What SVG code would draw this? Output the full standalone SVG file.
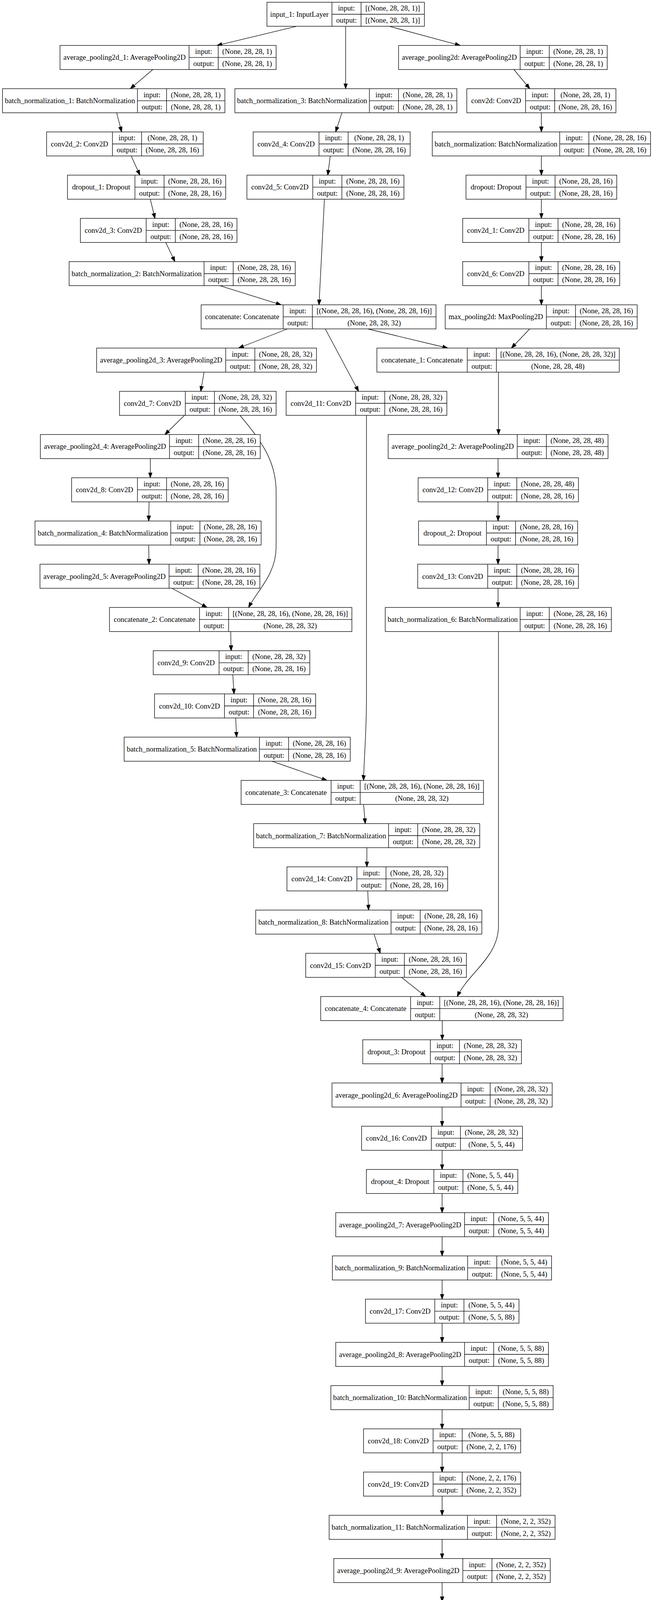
<svg xmlns="http://www.w3.org/2000/svg" width="1672" height="5164" viewBox="0 0 1672 5164">
<style>
.n rect{fill:#fff;stroke:#000;stroke-width:1.33}
.n path{fill:none;stroke:#000;stroke-width:1.33}
.n text{font-family:"Liberation Serif","Times New Roman",serif;font-size:18.67px;text-anchor:middle;fill:#000}
.e path{fill:none;stroke:#000;stroke-width:1.33;marker-end:url(#ah)}
</style>
<defs>
<marker id="ah" markerUnits="userSpaceOnUse" viewBox="0 -6 16 12" markerWidth="16" markerHeight="12" refX="13.3" refY="0" orient="auto"><path d="M0,-4.67L13.3,0L0,4.67Z" fill="#000" stroke="#000" stroke-width="1.33"/></marker>
</defs>
<rect width="1672" height="5164" fill="#fff"/>
<g id="connectors" class="e">
<path d="M759.2,67.3L555.6,116.4"/>
<path d="M885,67.3V227"/>
<path d="M997,67.3L1178.3,116.4"/>
<path d="M391.3,178L333.8,227"/>
<path d="M1315.8,178L1356.4,227"/>
<path d="M298.6,288.6L311.4,337.7"/>
<path d="M875.4,288.6L859.4,337.7"/>
<path d="M1386.2,288.6V337.7"/>
<path d="M335.9,399.3L358.3,448.4"/>
<path d="M845.6,399.3L839.2,448.4"/>
<path d="M1386.2,399.3V448.4"/>
<path d="M384.9,510L396.7,559"/>
<path d="M1386.2,510V559"/>
<path d="M424.4,620.7L447.9,669.7"/>
<path d="M1386.2,620.7V669.7"/>
<path d="M563,731.3L719.8,780.4"/>
<path d="M830.7,510L816.8,780.4"/>
<path d="M1386.2,731.3V780.4"/>
<path d="M735.8,842L611,891"/>
<path d="M832.8,842L918.1,1001.7"/>
<path d="M941.6,842L1146.3,891"/>
<path d="M1356.4,842L1309.5,891"/>
<path d="M522.5,952.7L514,1001.7"/>
<path d="M1276.4,952.7V1112.4"/>
<path d="M472.4,1063.3L422.3,1112.4"/>
<path d="M614.2,1063.3C680,1140 707,1190 707,1260L707,1400C707,1470 660,1510 636.6,1555"/>
<path d="M938.4,1063.3L938.4,1780C938.4,1880 932,1940 930.9,1997.8"/>
<path d="M1275.3,1174V1223"/>
<path d="M384.9,1174V1223"/>
<path d="M381.7,1284.7L380.7,1333.7"/>
<path d="M1275.3,1284.7V1333.7"/>
<path d="M380.7,1395.3L381.7,1444.4"/>
<path d="M1275.3,1395.3V1444.4"/>
<path d="M440.4,1506L530,1555"/>
<path d="M1275.3,1506V1555"/>
<path d="M590.7,1616.7L591.8,1665.7"/>
<path d="M1276.4,1616.7L1276.4,2370C1276.4,2450 1200,2490 1170.8,2551"/>
<path d="M596.1,1727.3L599.3,1776.4"/>
<path d="M603.5,1838L605.7,1887"/>
<path d="M696.3,1948.7L837.1,1997.8"/>
<path d="M930.9,2059.3L935.2,2108.4"/>
<path d="M939.4,2170V2219"/>
<path d="M941.6,2280.7L943.7,2329.7"/>
<path d="M957.6,2391.3L973.6,2440.4"/>
<path d="M1027.9,2502L1089.8,2551"/>
<path d="M1132.4,2612.7V2661.8"/>
<path d="M1132,2723.4V2772.4"/>
<path d="M1132,2834.1V2883.1"/>
<path d="M1132,2944.7V2993.8"/>
<path d="M1132,3055.4V3104.5"/>
<path d="M1132,3166.1V3215.1"/>
<path d="M1132,3276.7V3325.8"/>
<path d="M1132,3387.4V3436.5"/>
<path d="M1132,3498.1V3547.1"/>
<path d="M1132,3608.7V3657.8"/>
<path d="M1132,3719.4V3768.5"/>
<path d="M1132,3830.1V3879.1"/>
<path d="M1132,3940.8V3989.8"/>
<path d="M1132,4051.4V4100.5"/>
<path d="M1132,4162.1V4211.2"/>
<path d="M1132,4272.8V4321.8"/>
<path d="M1132,4383.4V4432.5"/>
<path d="M1132,4494.1V4543.2"/>
<path d="M1132,4604.8V4653.8"/>
<path d="M1132,4715.4V4764.5"/>
<path d="M1132,4826.1V4875.2"/>
<path d="M1132,4936.8V4985.8"/>
<path d="M1132,5047.5V5096.5"/>
</g>
<g id="input_1" class="n" transform="translate(683.5,5.7)"><rect width="403.1" height="61.6"/><path d="M166.4,0V61.6M241,0V61.6M166.4,30.8H403.1"/><text x="83.2" y="37.1">input_1: InputLayer</text><text x="203.7" y="21.7">input:</text><text x="203.7" y="52.5">output:</text><text x="322.05" y="21.7">[(None, 28, 28, 1)]</text><text x="322.05" y="52.5">[(None, 28, 28, 1)]</text></g>
<g id="average_pooling2d_1" class="n" transform="translate(153.6,116.37)"><rect width="553.4" height="61.6"/><path d="M330.5,0V61.6M405.1,0V61.6M330.5,30.8H553.4"/><text x="165.25" y="37.1">average_pooling2d_1: AveragePooling2D</text><text x="367.8" y="21.7">input:</text><text x="367.8" y="52.5">output:</text><text x="479.25" y="21.7">(None, 28, 28, 1)</text><text x="479.25" y="52.5">(None, 28, 28, 1)</text></g>
<g id="average_pooling2d" class="n" transform="translate(1020.5,116.37)"><rect width="534.2" height="61.6"/><path d="M311.3,0V61.6M385.9,0V61.6M311.3,30.8H534.2"/><text x="155.65" y="37.1">average_pooling2d: AveragePooling2D</text><text x="348.6" y="21.7">input:</text><text x="348.6" y="52.5">output:</text><text x="460.05" y="21.7">(None, 28, 28, 1)</text><text x="460.05" y="52.5">(None, 28, 28, 1)</text></g>
<g id="batch_normalization_1" class="n" transform="translate(6.4,227.04)"><rect width="569.4" height="61.6"/><path d="M345.5,0V61.6M420.1,0V61.6M345.5,30.8H569.4"/><text x="172.75" y="37.1">batch_normalization_1: BatchNormalization</text><text x="382.8" y="21.7">input:</text><text x="382.8" y="52.5">output:</text><text x="494.75" y="21.7">(None, 28, 28, 1)</text><text x="494.75" y="52.5">(None, 28, 28, 1)</text></g>
<g id="batch_normalization_3" class="n" transform="translate(601.4,227.04)"><rect width="568.3" height="61.6"/><path d="M344.4,0V61.6M419,0V61.6M344.4,30.8H568.3"/><text x="172.2" y="37.1">batch_normalization_3: BatchNormalization</text><text x="381.7" y="21.7">input:</text><text x="381.7" y="52.5">output:</text><text x="493.65" y="21.7">(None, 28, 28, 1)</text><text x="493.65" y="52.5">(None, 28, 28, 1)</text></g>
<g id="conv2d" class="n" transform="translate(1195.3,227.04)"><rect width="381.8" height="61.6"/><path d="M150.4,0V61.6M225,0V61.6M150.4,30.8H381.8"/><text x="75.2" y="37.1">conv2d: Conv2D</text><text x="187.7" y="21.7">input:</text><text x="187.7" y="52.5">output:</text><text x="303.4" y="21.7">(None, 28, 28, 1)</text><text x="303.4" y="52.5">(None, 28, 28, 16)</text></g>
<g id="conv2d_2" class="n" transform="translate(119.4,337.71)"><rect width="401" height="61.6"/><path d="M168.5,0V61.6M243.1,0V61.6M168.5,30.8H401"/><text x="84.25" y="37.1">conv2d_2: Conv2D</text><text x="205.8" y="21.7">input:</text><text x="205.8" y="52.5">output:</text><text x="322.05" y="21.7">(None, 28, 28, 1)</text><text x="322.05" y="52.5">(None, 28, 28, 16)</text></g>
<g id="conv2d_4" class="n" transform="translate(648.3,337.71)"><rect width="402" height="61.6"/><path d="M168.5,0V61.6M243.1,0V61.6M168.5,30.8H402"/><text x="84.25" y="37.1">conv2d_4: Conv2D</text><text x="205.8" y="21.7">input:</text><text x="205.8" y="52.5">output:</text><text x="322.55" y="21.7">(None, 28, 28, 1)</text><text x="322.55" y="52.5">(None, 28, 28, 16)</text></g>
<g id="batch_normalization" class="n" transform="translate(1106.8,337.71)"><rect width="558.8" height="61.6"/><path d="M326.3,0V61.6M400.9,0V61.6M326.3,30.8H558.8"/><text x="163.15" y="37.1">batch_normalization: BatchNormalization</text><text x="363.6" y="21.7">input:</text><text x="363.6" y="52.5">output:</text><text x="479.85" y="21.7">(None, 28, 28, 16)</text><text x="479.85" y="52.5">(None, 28, 28, 16)</text></g>
<g id="dropout_1" class="n" transform="translate(172.7,448.38)"><rect width="405.2" height="61.6"/><path d="M172.8,0V61.6M247.4,0V61.6M172.8,30.8H405.2"/><text x="86.4" y="37.1">dropout_1: Dropout</text><text x="210.1" y="21.7">input:</text><text x="210.1" y="52.5">output:</text><text x="326.3" y="21.7">(None, 28, 28, 16)</text><text x="326.3" y="52.5">(None, 28, 28, 16)</text></g>
<g id="conv2d_5" class="n" transform="translate(632.3,448.38)"><rect width="402" height="61.6"/><path d="M168.5,0V61.6M243.1,0V61.6M168.5,30.8H402"/><text x="84.25" y="37.1">conv2d_5: Conv2D</text><text x="205.8" y="21.7">input:</text><text x="205.8" y="52.5">output:</text><text x="322.55" y="21.7">(None, 28, 28, 16)</text><text x="322.55" y="52.5">(None, 28, 28, 16)</text></g>
<g id="dropout" class="n" transform="translate(1193.2,448.38)"><rect width="386" height="61.6"/><path d="M153.5,0V61.6M228.1,0V61.6M153.5,30.8H386"/><text x="76.75" y="37.1">dropout: Dropout</text><text x="190.8" y="21.7">input:</text><text x="190.8" y="52.5">output:</text><text x="307.05" y="21.7">(None, 28, 28, 16)</text><text x="307.05" y="52.5">(None, 28, 28, 16)</text></g>
<g id="conv2d_3" class="n" transform="translate(205.8,559.05)"><rect width="400.9" height="61.6"/><path d="M168.5,0V61.6M243.1,0V61.6M168.5,30.8H400.9"/><text x="84.25" y="37.1">conv2d_3: Conv2D</text><text x="205.8" y="21.7">input:</text><text x="205.8" y="52.5">output:</text><text x="322" y="21.7">(None, 28, 28, 16)</text><text x="322" y="52.5">(None, 28, 28, 16)</text></g>
<g id="conv2d_1" class="n" transform="translate(1184.7,559.05)"><rect width="402" height="61.6"/><path d="M169.5,0V61.6M244.1,0V61.6M169.5,30.8H402"/><text x="84.75" y="37.1">conv2d_1: Conv2D</text><text x="206.8" y="21.7">input:</text><text x="206.8" y="52.5">output:</text><text x="323.05" y="21.7">(None, 28, 28, 16)</text><text x="323.05" y="52.5">(None, 28, 28, 16)</text></g>
<g id="batch_normalization_2" class="n" transform="translate(177,669.72)"><rect width="579" height="61.6"/><path d="M345.5,0V61.6M420.1,0V61.6M345.5,30.8H579"/><text x="172.75" y="37.1">batch_normalization_2: BatchNormalization</text><text x="382.8" y="21.7">input:</text><text x="382.8" y="52.5">output:</text><text x="499.55" y="21.7">(None, 28, 28, 16)</text><text x="499.55" y="52.5">(None, 28, 28, 16)</text></g>
<g id="conv2d_6" class="n" transform="translate(1184.7,669.72)"><rect width="402" height="61.6"/><path d="M169.5,0V61.6M244.1,0V61.6M169.5,30.8H402"/><text x="84.75" y="37.1">conv2d_6: Conv2D</text><text x="206.8" y="21.7">input:</text><text x="206.8" y="52.5">output:</text><text x="323.05" y="21.7">(None, 28, 28, 16)</text><text x="323.05" y="52.5">(None, 28, 28, 16)</text></g>
<g id="concatenate" class="n" transform="translate(515,780.39)"><rect width="601.4" height="61.6"/><path d="M210.1,0V61.6M284.7,0V61.6M210.1,30.8H601.4"/><text x="105.05" y="37.1">concatenate: Concatenate</text><text x="247.4" y="21.7">input:</text><text x="247.4" y="52.5">output:</text><text x="443.05" y="21.7">[(None, 28, 28, 16), (None, 28, 28, 16)]</text><text x="443.05" y="52.5">(None, 28, 28, 32)</text></g>
<g id="max_pooling2d" class="n" transform="translate(1139.9,780.39)"><rect width="491.6" height="61.6"/><path d="M259.1,0V61.6M333.7,0V61.6M259.1,30.8H491.6"/><text x="129.55" y="37.1">max_pooling2d: MaxPooling2D</text><text x="296.4" y="21.7">input:</text><text x="296.4" y="52.5">output:</text><text x="412.65" y="21.7">(None, 28, 28, 16)</text><text x="412.65" y="52.5">(None, 28, 28, 16)</text></g>
<g id="average_pooling2d_3" class="n" transform="translate(247.4,891.06)"><rect width="563" height="61.6"/><path d="M330.5,0V61.6M405.1,0V61.6M330.5,30.8H563"/><text x="165.25" y="37.1">average_pooling2d_3: AveragePooling2D</text><text x="367.8" y="21.7">input:</text><text x="367.8" y="52.5">output:</text><text x="484.05" y="21.7">(None, 28, 28, 32)</text><text x="484.05" y="52.5">(None, 28, 28, 32)</text></g>
<g id="concatenate_1" class="n" transform="translate(965,891.06)"><rect width="620.6" height="61.6"/><path d="M231.4,0V61.6M306,0V61.6M231.4,30.8H620.6"/><text x="115.7" y="37.1">concatenate_1: Concatenate</text><text x="268.7" y="21.7">input:</text><text x="268.7" y="52.5">output:</text><text x="463.3" y="21.7">[(None, 28, 28, 16), (None, 28, 28, 32)]</text><text x="463.3" y="52.5">(None, 28, 28, 48)</text></g>
<g id="conv2d_7" class="n" transform="translate(306,1001.73)"><rect width="401" height="61.6"/><path d="M168.5,0V61.6M243.1,0V61.6M168.5,30.8H401"/><text x="84.25" y="37.1">conv2d_7: Conv2D</text><text x="205.8" y="21.7">input:</text><text x="205.8" y="52.5">output:</text><text x="322.05" y="21.7">(None, 28, 28, 32)</text><text x="322.05" y="52.5">(None, 28, 28, 16)</text></g>
<g id="conv2d_11" class="n" transform="translate(732.6,1001.73)"><rect width="411.6" height="61.6"/><path d="M178,0V61.6M252.6,0V61.6M178,30.8H411.6"/><text x="89" y="37.1">conv2d_11: Conv2D</text><text x="215.3" y="21.7">input:</text><text x="215.3" y="52.5">output:</text><text x="332.1" y="21.7">(None, 28, 28, 32)</text><text x="332.1" y="52.5">(None, 28, 28, 16)</text></g>
<g id="average_pooling2d_4" class="n" transform="translate(103.4,1112.4)"><rect width="563" height="61.6"/><path d="M330.6,0V61.6M405.2,0V61.6M330.6,30.8H563"/><text x="165.3" y="37.1">average_pooling2d_4: AveragePooling2D</text><text x="367.9" y="21.7">input:</text><text x="367.9" y="52.5">output:</text><text x="484.1" y="21.7">(None, 28, 28, 16)</text><text x="484.1" y="52.5">(None, 28, 28, 16)</text></g>
<g id="average_pooling2d_2" class="n" transform="translate(993.8,1112.4)"><rect width="563" height="61.6"/><path d="M330.6,0V61.6M405.2,0V61.6M330.6,30.8H563"/><text x="165.3" y="37.1">average_pooling2d_2: AveragePooling2D</text><text x="367.9" y="21.7">input:</text><text x="367.9" y="52.5">output:</text><text x="484.1" y="21.7">(None, 28, 28, 48)</text><text x="484.1" y="52.5">(None, 28, 28, 48)</text></g>
<g id="conv2d_8" class="n" transform="translate(183.4,1223.07)"><rect width="400.9" height="61.6"/><path d="M168.5,0V61.6M243.1,0V61.6M168.5,30.8H400.9"/><text x="84.25" y="37.1">conv2d_8: Conv2D</text><text x="205.8" y="21.7">input:</text><text x="205.8" y="52.5">output:</text><text x="322" y="21.7">(None, 28, 28, 16)</text><text x="322" y="52.5">(None, 28, 28, 16)</text></g>
<g id="conv2d_12" class="n" transform="translate(1070.6,1223.07)"><rect width="410.5" height="61.6"/><path d="M178.1,0V61.6M252.7,0V61.6M178.1,30.8H410.5"/><text x="89.05" y="37.1">conv2d_12: Conv2D</text><text x="215.4" y="21.7">input:</text><text x="215.4" y="52.5">output:</text><text x="331.6" y="21.7">(None, 28, 28, 48)</text><text x="331.6" y="52.5">(None, 28, 28, 16)</text></g>
<g id="batch_normalization_4" class="n" transform="translate(89.6,1333.74)"><rect width="579" height="61.6"/><path d="M347.6,0V61.6M422.2,0V61.6M347.6,30.8H579"/><text x="173.8" y="37.1">batch_normalization_4: BatchNormalization</text><text x="384.9" y="21.7">input:</text><text x="384.9" y="52.5">output:</text><text x="500.6" y="21.7">(None, 28, 28, 16)</text><text x="500.6" y="52.5">(None, 28, 28, 16)</text></g>
<g id="dropout_2" class="n" transform="translate(1071.6,1333.74)"><rect width="407.4" height="61.6"/><path d="M173.9,0V61.6M248.5,0V61.6M173.9,30.8H407.4"/><text x="86.95" y="37.1">dropout_2: Dropout</text><text x="211.2" y="21.7">input:</text><text x="211.2" y="52.5">output:</text><text x="327.95" y="21.7">(None, 28, 28, 16)</text><text x="327.95" y="52.5">(None, 28, 28, 16)</text></g>
<g id="average_pooling2d_5" class="n" transform="translate(102.4,1444.41)"><rect width="563" height="61.6"/><path d="M330.5,0V61.6M405.1,0V61.6M330.5,30.8H563"/><text x="165.25" y="37.1">average_pooling2d_5: AveragePooling2D</text><text x="367.8" y="21.7">input:</text><text x="367.8" y="52.5">output:</text><text x="484.05" y="21.7">(None, 28, 28, 16)</text><text x="484.05" y="52.5">(None, 28, 28, 16)</text></g>
<g id="conv2d_13" class="n" transform="translate(1069.5,1444.41)"><rect width="411.6" height="61.6"/><path d="M179.2,0V61.6M253.8,0V61.6M179.2,30.8H411.6"/><text x="89.6" y="37.1">conv2d_13: Conv2D</text><text x="216.5" y="21.7">input:</text><text x="216.5" y="52.5">output:</text><text x="332.7" y="21.7">(None, 28, 28, 16)</text><text x="332.7" y="52.5">(None, 28, 28, 16)</text></g>
<g id="concatenate_2" class="n" transform="translate(280.4,1555.08)"><rect width="620.6" height="61.6"/><path d="M230.4,0V61.6M305,0V61.6M230.4,30.8H620.6"/><text x="115.2" y="37.1">concatenate_2: Concatenate</text><text x="267.7" y="21.7">input:</text><text x="267.7" y="52.5">output:</text><text x="462.8" y="21.7">[(None, 28, 28, 16), (None, 28, 28, 16)]</text><text x="462.8" y="52.5">(None, 28, 28, 32)</text></g>
<g id="batch_normalization_6" class="n" transform="translate(986.4,1555.08)"><rect width="579" height="61.6"/><path d="M345.4,0V61.6M420,0V61.6M345.4,30.8H579"/><text x="172.7" y="37.1">batch_normalization_6: BatchNormalization</text><text x="382.7" y="21.7">input:</text><text x="382.7" y="52.5">output:</text><text x="499.5" y="21.7">(None, 28, 28, 16)</text><text x="499.5" y="52.5">(None, 28, 28, 16)</text></g>
<g id="conv2d_9" class="n" transform="translate(392.4,1665.75)"><rect width="400.9" height="61.6"/><path d="M168.5,0V61.6M243.1,0V61.6M168.5,30.8H400.9"/><text x="84.25" y="37.1">conv2d_9: Conv2D</text><text x="205.8" y="21.7">input:</text><text x="205.8" y="52.5">output:</text><text x="322" y="21.7">(None, 28, 28, 32)</text><text x="322" y="52.5">(None, 28, 28, 16)</text></g>
<g id="conv2d_10" class="n" transform="translate(395.6,1776.42)"><rect width="412.7" height="61.6"/><path d="M179.1,0V61.6M253.7,0V61.6M179.1,30.8H412.7"/><text x="89.55" y="37.1">conv2d_10: Conv2D</text><text x="216.4" y="21.7">input:</text><text x="216.4" y="52.5">output:</text><text x="333.2" y="21.7">(None, 28, 28, 16)</text><text x="333.2" y="52.5">(None, 28, 28, 16)</text></g>
<g id="batch_normalization_5" class="n" transform="translate(317.8,1887.09)"><rect width="579" height="61.6"/><path d="M346.5,0V61.6M421.1,0V61.6M346.5,30.8H579"/><text x="173.25" y="37.1">batch_normalization_5: BatchNormalization</text><text x="383.8" y="21.7">input:</text><text x="383.8" y="52.5">output:</text><text x="500.05" y="21.7">(None, 28, 28, 16)</text><text x="500.05" y="52.5">(None, 28, 28, 16)</text></g>
<g id="concatenate_3" class="n" transform="translate(617.4,1997.76)"><rect width="620.6" height="61.6"/><path d="M230.3,0V61.6M304.9,0V61.6M230.3,30.8H620.6"/><text x="115.15" y="37.1">concatenate_3: Concatenate</text><text x="267.6" y="21.7">input:</text><text x="267.6" y="52.5">output:</text><text x="462.75" y="21.7">[(None, 28, 28, 16), (None, 28, 28, 16)]</text><text x="462.75" y="52.5">(None, 28, 28, 32)</text></g>
<g id="batch_normalization_7" class="n" transform="translate(649.4,2108.43)"><rect width="579" height="61.6"/><path d="M345.5,0V61.6M420.1,0V61.6M345.5,30.8H579"/><text x="172.75" y="37.1">batch_normalization_7: BatchNormalization</text><text x="382.8" y="21.7">input:</text><text x="382.8" y="52.5">output:</text><text x="499.55" y="21.7">(None, 28, 28, 32)</text><text x="499.55" y="52.5">(None, 28, 28, 32)</text></g>
<g id="conv2d_14" class="n" transform="translate(734.7,2219.1)"><rect width="411.6" height="61.6"/><path d="M179.1,0V61.6M253.7,0V61.6M179.1,30.8H411.6"/><text x="89.55" y="37.1">conv2d_14: Conv2D</text><text x="216.4" y="21.7">input:</text><text x="216.4" y="52.5">output:</text><text x="332.65" y="21.7">(None, 28, 28, 32)</text><text x="332.65" y="52.5">(None, 28, 28, 16)</text></g>
<g id="batch_normalization_8" class="n" transform="translate(654.7,2329.77)"><rect width="579" height="61.6"/><path d="M346.6,0V61.6M421.2,0V61.6M346.6,30.8H579"/><text x="173.3" y="37.1">batch_normalization_8: BatchNormalization</text><text x="383.9" y="21.7">input:</text><text x="383.9" y="52.5">output:</text><text x="500.1" y="21.7">(None, 28, 28, 16)</text><text x="500.1" y="52.5">(None, 28, 28, 16)</text></g>
<g id="conv2d_15" class="n" transform="translate(782.7,2440.44)"><rect width="411.6" height="61.6"/><path d="M178.1,0V61.6M252.7,0V61.6M178.1,30.8H411.6"/><text x="89.05" y="37.1">conv2d_15: Conv2D</text><text x="215.4" y="21.7">input:</text><text x="215.4" y="52.5">output:</text><text x="332.15" y="21.7">(None, 28, 28, 16)</text><text x="332.15" y="52.5">(None, 28, 28, 16)</text></g>
<g id="concatenate_4" class="n" transform="translate(821.1,2551.11)"><rect width="620.6" height="61.6"/><path d="M230.3,0V61.6M304.9,0V61.6M230.3,30.8H620.6"/><text x="115.15" y="37.1">concatenate_4: Concatenate</text><text x="267.6" y="21.7">input:</text><text x="267.6" y="52.5">output:</text><text x="462.75" y="21.7">[(None, 28, 28, 16), (None, 28, 28, 16)]</text><text x="462.75" y="52.5">(None, 28, 28, 32)</text></g>
<g id="dropout_3" class="n" transform="translate(928.8,2661.78)"><rect width="406.4" height="61.6"/><path d="M173.1,0V61.6M247.7,0V61.6M173.1,30.8H406.4"/><text x="86.55" y="37.1">dropout_3: Dropout</text><text x="210.4" y="21.7">input:</text><text x="210.4" y="52.5">output:</text><text x="327.05" y="21.7">(None, 28, 28, 32)</text><text x="327.05" y="52.5">(None, 28, 28, 32)</text></g>
<g id="average_pooling2d_6" class="n" transform="translate(850.1,2772.45)"><rect width="563.7" height="61.6"/><path d="M330.4,0V61.6M405,0V61.6M330.4,30.8H563.7"/><text x="165.2" y="37.1">average_pooling2d_6: AveragePooling2D</text><text x="367.7" y="21.7">input:</text><text x="367.7" y="52.5">output:</text><text x="484.35" y="21.7">(None, 28, 28, 32)</text><text x="484.35" y="52.5">(None, 28, 28, 32)</text></g>
<g id="conv2d_16" class="n" transform="translate(925.8,2883.12)"><rect width="411.9" height="61.6"/><path d="M178.6,0V61.6M253.2,0V61.6M178.6,30.8H411.9"/><text x="89.3" y="37.1">conv2d_16: Conv2D</text><text x="215.9" y="21.7">input:</text><text x="215.9" y="52.5">output:</text><text x="332.55" y="21.7">(None, 28, 28, 32)</text><text x="332.55" y="52.5">(None, 5, 5, 44)</text></g>
<g id="dropout_4" class="n" transform="translate(938.2,2993.79)"><rect width="387.6" height="61.6"/><path d="M172.6,0V61.6M247.2,0V61.6M172.6,30.8H387.6"/><text x="86.3" y="37.1">dropout_4: Dropout</text><text x="209.9" y="21.7">input:</text><text x="209.9" y="52.5">output:</text><text x="317.4" y="21.7">(None, 5, 5, 44)</text><text x="317.4" y="52.5">(None, 5, 5, 44)</text></g>
<g id="average_pooling2d_7" class="n" transform="translate(859.6,3104.46)"><rect width="544.8" height="61.6"/><path d="M329.9,0V61.6M404.5,0V61.6M329.9,30.8H544.8"/><text x="164.95" y="37.1">average_pooling2d_7: AveragePooling2D</text><text x="367.2" y="21.7">input:</text><text x="367.2" y="52.5">output:</text><text x="474.65" y="21.7">(None, 5, 5, 44)</text><text x="474.65" y="52.5">(None, 5, 5, 44)</text></g>
<g id="batch_normalization_9" class="n" transform="translate(851.1,3215.13)"><rect width="561.2" height="61.6"/><path d="M346.3,0V61.6M420.9,0V61.6M346.3,30.8H561.2"/><text x="173.15" y="37.1">batch_normalization_9: BatchNormalization</text><text x="383.6" y="21.7">input:</text><text x="383.6" y="52.5">output:</text><text x="491.05" y="21.7">(None, 5, 5, 44)</text><text x="491.05" y="52.5">(None, 5, 5, 44)</text></g>
<g id="conv2d_17" class="n" transform="translate(935.7,3325.8)"><rect width="393.1" height="61.6"/><path d="M177.6,0V61.6M252.2,0V61.6M177.6,30.8H393.1"/><text x="88.8" y="37.1">conv2d_17: Conv2D</text><text x="214.9" y="21.7">input:</text><text x="214.9" y="52.5">output:</text><text x="322.65" y="21.7">(None, 5, 5, 44)</text><text x="322.65" y="52.5">(None, 5, 5, 88)</text></g>
<g id="average_pooling2d_8" class="n" transform="translate(859.6,3436.47)"><rect width="544.8" height="61.6"/><path d="M329.9,0V61.6M404.5,0V61.6M329.9,30.8H544.8"/><text x="164.95" y="37.1">average_pooling2d_8: AveragePooling2D</text><text x="367.2" y="21.7">input:</text><text x="367.2" y="52.5">output:</text><text x="474.65" y="21.7">(None, 5, 5, 88)</text><text x="474.65" y="52.5">(None, 5, 5, 88)</text></g>
<g id="batch_normalization_10" class="n" transform="translate(847.2,3547.14)"><rect width="569.1" height="61.6"/><path d="M354.2,0V61.6M428.8,0V61.6M354.2,30.8H569.1"/><text x="177.1" y="37.1">batch_normalization_10: BatchNormalization</text><text x="391.5" y="21.7">input:</text><text x="391.5" y="52.5">output:</text><text x="498.95" y="21.7">(None, 5, 5, 88)</text><text x="498.95" y="52.5">(None, 5, 5, 88)</text></g>
<g id="conv2d_18" class="n" transform="translate(930.7,3657.81)"><rect width="402.5" height="61.6"/><path d="M178.2,0V61.6M252.8,0V61.6M178.2,30.8H402.5"/><text x="89.1" y="37.1">conv2d_18: Conv2D</text><text x="215.5" y="21.7">input:</text><text x="215.5" y="52.5">output:</text><text x="327.65" y="21.7">(None, 5, 5, 88)</text><text x="327.65" y="52.5">(None, 2, 2, 176)</text></g>
<g id="conv2d_19" class="n" transform="translate(930.7,3768.48)"><rect width="402.5" height="61.6"/><path d="M178.2,0V61.6M252.8,0V61.6M178.2,30.8H402.5"/><text x="89.1" y="37.1">conv2d_19: Conv2D</text><text x="215.5" y="21.7">input:</text><text x="215.5" y="52.5">output:</text><text x="327.65" y="21.7">(None, 2, 2, 176)</text><text x="327.65" y="52.5">(None, 2, 2, 352)</text></g>
<g id="batch_normalization_11" class="n" transform="translate(842.7,3879.15)"><rect width="578.6" height="61.6"/><path d="M354.2,0V61.6M428.8,0V61.6M354.2,30.8H578.6"/><text x="177.1" y="37.1">batch_normalization_11: BatchNormalization</text><text x="391.5" y="21.7">input:</text><text x="391.5" y="52.5">output:</text><text x="503.7" y="21.7">(None, 2, 2, 352)</text><text x="503.7" y="52.5">(None, 2, 2, 352)</text></g>
<g id="average_pooling2d_9" class="n" transform="translate(854.6,3989.82)"><rect width="554.3" height="61.6"/><path d="M330.4,0V61.6M405,0V61.6M330.4,30.8H554.3"/><text x="165.2" y="37.1">average_pooling2d_9: AveragePooling2D</text><text x="367.7" y="21.7">input:</text><text x="367.7" y="52.5">output:</text><text x="479.65" y="21.7">(None, 2, 2, 352)</text><text x="479.65" y="52.5">(None, 2, 2, 352)</text></g>
<g id="batch_normalization_12" class="n" transform="translate(842.7,4100.49)"><rect width="578.6" height="61.6"/><path d="M354.2,0V61.6M428.8,0V61.6M354.2,30.8H578.6"/><text x="177.1" y="37.1">batch_normalization_12: BatchNormalization</text><text x="391.5" y="21.7">input:</text><text x="391.5" y="52.5">output:</text><text x="503.7" y="21.7">(None, 2, 2, 352)</text><text x="503.7" y="52.5">(None, 2, 2, 352)</text></g>
<g id="conv2d_20" class="n" transform="translate(930.7,4211.16)"><rect width="402.5" height="61.6"/><path d="M178.2,0V61.6M252.8,0V61.6M178.2,30.8H402.5"/><text x="89.1" y="37.1">conv2d_20: Conv2D</text><text x="215.5" y="21.7">input:</text><text x="215.5" y="52.5">output:</text><text x="327.65" y="21.7">(None, 2, 2, 352)</text><text x="327.65" y="52.5">(None, 2, 2, 704)</text></g>
<g id="dropout_5" class="n" transform="translate(933.2,4321.83)"><rect width="397.5" height="61.6"/><path d="M173.2,0V61.6M247.8,0V61.6M173.2,30.8H397.5"/><text x="86.6" y="37.1">dropout_5: Dropout</text><text x="210.5" y="21.7">input:</text><text x="210.5" y="52.5">output:</text><text x="322.65" y="21.7">(None, 2, 2, 704)</text><text x="322.65" y="52.5">(None, 2, 2, 704)</text></g>
<g id="average_pooling2d_10" class="n" transform="translate(850.1,4432.5)"><rect width="563.7" height="61.6"/><path d="M339.4,0V61.6M414,0V61.6M339.4,30.8H563.7"/><text x="169.7" y="37.1">average_pooling2d_10: AveragePooling2D</text><text x="376.7" y="21.7">input:</text><text x="376.7" y="52.5">output:</text><text x="488.85" y="21.7">(None, 2, 2, 704)</text><text x="488.85" y="52.5">(None, 1, 1, 704)</text></g>
<g id="batch_normalization_13" class="n" transform="translate(842.7,4543.17)"><rect width="578.6" height="61.6"/><path d="M354.2,0V61.6M428.8,0V61.6M354.2,30.8H578.6"/><text x="177.1" y="37.1">batch_normalization_13: BatchNormalization</text><text x="391.5" y="21.7">input:</text><text x="391.5" y="52.5">output:</text><text x="503.7" y="21.7">(None, 1, 1, 704)</text><text x="503.7" y="52.5">(None, 1, 1, 704)</text></g>
<g id="conv2d_21" class="n" transform="translate(925.8,4653.84)"><rect width="411.9" height="61.6"/><path d="M178.6,0V61.6M253.2,0V61.6M178.6,30.8H411.9"/><text x="89.3" y="37.1">conv2d_21: Conv2D</text><text x="215.9" y="21.7">input:</text><text x="215.9" y="52.5">output:</text><text x="332.55" y="21.7">(None, 1, 1, 704)</text><text x="332.55" y="52.5">(None, 1, 1, 1408)</text></g>
<g id="global_average_pooling2d" class="n" transform="translate(806.4,4764.51)"><rect width="650.7" height="61.6"/><path d="M417.4,0V61.6M492,0V61.6M417.4,30.8H650.7"/><text x="208.7" y="37.1">global_average_pooling2d: GlobalAveragePooling2D</text><text x="454.7" y="21.7">input:</text><text x="454.7" y="52.5">output:</text><text x="571.35" y="21.7">(None, 1, 1, 1408)</text><text x="571.35" y="52.5">(None, 1408)</text></g>
<g id="dropout_6" class="n" transform="translate(948.2,4875.18)"><rect width="367.6" height="61.6"/><path d="M173.1,0V61.6M247.7,0V61.6M173.1,30.8H367.6"/><text x="86.55" y="37.1">dropout_6: Dropout</text><text x="210.4" y="21.7">input:</text><text x="210.4" y="52.5">output:</text><text x="307.65" y="21.7">(None, 1408)</text><text x="307.65" y="52.5">(None, 1408)</text></g>
<g id="dense" class="n" transform="translate(974.5,4985.85)"><rect width="314.5" height="61.6"/><path d="M119.9,0V61.6M194.5,0V61.6M119.9,30.8H314.5"/><text x="59.95" y="37.1">dense: Dense</text><text x="157.2" y="21.7">input:</text><text x="157.2" y="52.5">output:</text><text x="254.5" y="21.7">(None, 1408)</text><text x="254.5" y="52.5">(None, 281)</text></g>
<g id="dense_1" class="n" transform="translate(970,5096.52)"><rect width="323.4" height="61.6"/><path d="M138.4,0V61.6M213,0V61.6M138.4,30.8H323.4"/><text x="69.2" y="37.1">dense_1: Dense</text><text x="175.7" y="21.7">input:</text><text x="175.7" y="52.5">output:</text><text x="268.2" y="21.7">(None, 281)</text><text x="268.2" y="52.5">(None, 10)</text></g>
</svg>
